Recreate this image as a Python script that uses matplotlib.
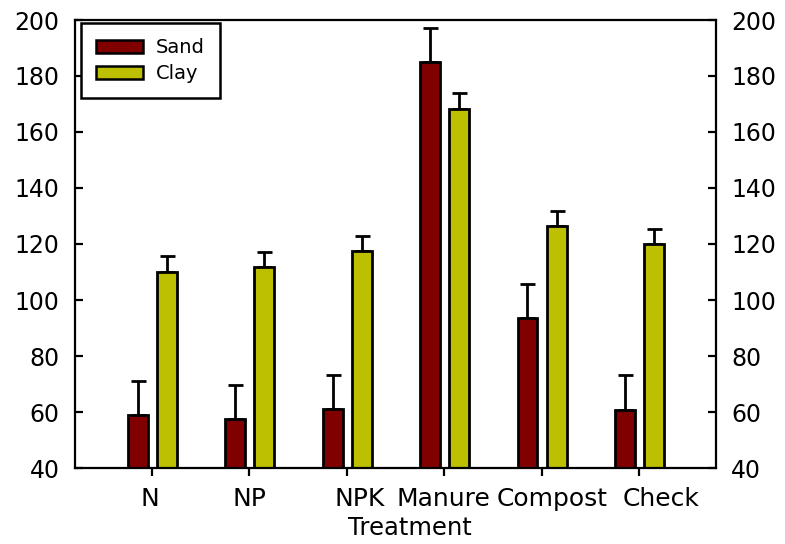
import matplotlib
matplotlib.use("Agg")
import matplotlib.pyplot as plt
import matplotlib.transforms as mtransforms
import numpy as np

categories = ["N", "NP", "NPK", "Manure", "Compost", "Check"]
sand = [58.9, 57.5, 61.1, 185.0, 93.6, 60.7]
sand_err = [12.2, 12.1, 12.1, 12.1, 12.1, 12.5]
clay = [110.1, 111.8, 117.5, 168.2, 126.4, 120.0]
clay_err = [5.7, 5.3, 5.4, 5.7, 5.4, 5.4]
yticks = [40, 60, 80, 100, 120, 140, 160, 180, 200]

sand_color = "#800000"
clay_color = "#BCC000"

W, H = 785, 544
fig = plt.figure(figsize=(W / 100, H / 100), dpi=100)
ax = fig.add_axes([75 / W, (H - 468) / H, 641 / W, 448 / H])

x = np.arange(len(categories))
bw = 0.205
lw = 2.0
ax.bar(x - 0.145, np.array(sand) - 40, bw, bottom=40, color=sand_color,
       edgecolor="black", linewidth=lw, label="Sand", zorder=2)
ax.bar(x + 0.155, np.array(clay) - 40, bw, bottom=40, color=clay_color,
       edgecolor="black", linewidth=lw, label="Clay", zorder=2)
ax.errorbar(x - 0.145, sand, yerr=[np.zeros(len(sand)), sand_err], fmt="none",
            ecolor="black", elinewidth=lw, capsize=5.4, capthick=lw, zorder=1)
ax.errorbar(x + 0.155, clay, yerr=[np.zeros(len(clay)), clay_err], fmt="none",
            ecolor="black", elinewidth=lw, capsize=5.4, capthick=lw, zorder=1)

ax.set_xlim(-0.79, 5.79)
ax.set_ylim(40, 200)
ax.set_yticks(yticks)
ax.set_xticks(x)
ax.set_xticklabels(categories, fontsize=18)

for s in ax.spines.values():
    s.set_linewidth(1.6)

ax.tick_params(axis="x", direction="out", length=5.5, width=1.6, pad=8)
ax.tick_params(axis="y", direction="in", length=5.5, width=1.6, pad=11,
               labelsize=17, left=True, right=True, labelleft=True, labelright=True)

offsets_px = [-2, 0, 13, -1, 11, 22]
for lab, dx in zip(ax.get_xticklabels(), offsets_px):
    lab.set_transform(lab.get_transform() +
                      mtransforms.ScaledTranslation(dx / 100, 0, fig.dpi_scale_trans))

ax.set_xlabel("Treatment", fontsize=17.5, va="top")
ax.xaxis.set_label_coords((409.5 - 75) / 641, -0.107)

leg = ax.legend(loc="upper left", bbox_to_anchor=(0.0094, 0.993), borderaxespad=0,
                fontsize=14, fancybox=False, framealpha=1, edgecolor="black",
                handlelength=2.4, handleheight=0.7, handletextpad=0.65,
                labelspacing=0.36, borderpad=0.78)
leg.get_frame().set_linewidth(1.8)
for p in leg.get_patches():
    p.set_linewidth(1.8)

fig.savefig("out.png", dpi=100)
